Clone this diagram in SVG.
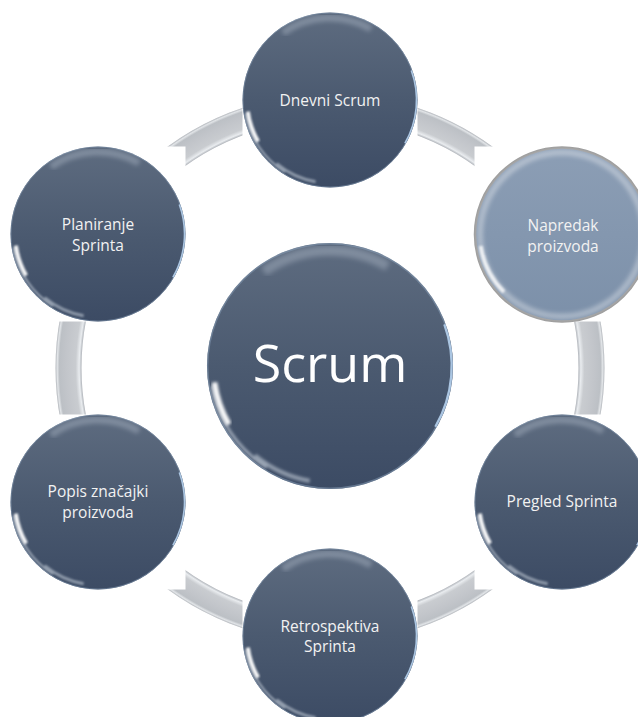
<svg xmlns="http://www.w3.org/2000/svg" xmlns:xlink="http://www.w3.org/1999/xlink" width="638" height="717" viewBox="0 0 638 717">
<style>
.lbl{font-family:"Open Sans","Noto Sans","Liberation Sans",sans-serif;font-size:15.5px;fill:#f2f2f2;text-anchor:middle}
.big{font-family:"Open Sans","Noto Sans","Liberation Sans",sans-serif;font-size:52px;fill:#ffffff;text-anchor:middle}
</style>
<defs>
  <linearGradient id="body" x1="0" y1="0" x2="0" y2="1">
    <stop offset="0" stop-color="#5e6c80"/>
    <stop offset="0.5" stop-color="#4b5a70"/>
    <stop offset="1" stop-color="#3c4b64"/>
  </linearGradient>
  <linearGradient id="bodyLight" x1="0" y1="0" x2="0" y2="1">
    <stop offset="0" stop-color="#8c9eb5"/>
    <stop offset="1" stop-color="#7c90a9"/>
  </linearGradient>
  <radialGradient id="ringGrad" gradientUnits="userSpaceOnUse" cx="330" cy="368" r="275">
    <stop offset="0.9036" stop-color="#b0b4ba"/>
    <stop offset="0.912" stop-color="#e9ecef"/>
    <stop offset="0.925" stop-color="#c9ccd0"/>
    <stop offset="0.96" stop-color="#c2c5ca"/>
    <stop offset="0.984" stop-color="#bcc0c5"/>
    <stop offset="0.992" stop-color="#e2e5e8"/>
    <stop offset="1" stop-color="#a4a8ae"/>
  </radialGradient>
  <filter id="b1" x="-20%" y="-20%" width="140%" height="140%"><feGaussianBlur stdDeviation="1"/></filter>
  <filter id="b2" x="-20%" y="-20%" width="140%" height="140%"><feGaussianBlur stdDeviation="2"/></filter>
  <mask id="ringMask" maskUnits="userSpaceOnUse" x="0" y="0" width="638" height="717">
    <rect x="0" y="0" width="638" height="717" fill="#fff"/>
    <rect x="242.5" y="12.5" width="175" height="175" fill="#000"/>
    <rect x="474.5" y="146.5" width="175" height="175" fill="#000"/>
    <rect x="474.5" y="414.5" width="175" height="175" fill="#000"/>
    <rect x="242.5" y="548.5" width="175" height="175" fill="#000"/>
    <rect x="10.5" y="414.5" width="175" height="175" fill="#000"/>
    <rect x="10.5" y="146.5" width="175" height="175" fill="#000"/>
  </mask>
  <g id="btn">
    <circle r="87.5" fill="url(#body)"/>
    <circle r="87" fill="none" stroke="#7f95ae" stroke-width="1" opacity="0.6"/>
    <path d="M -47 -67.2 A 82 82 0 0 1 41 -71" fill="none" stroke="#d0dae6" stroke-width="7" opacity="0.3" filter="url(#b2)"/>
    <path d="M -84 14 A 85 85 0 0 0 -45 72" fill="none" stroke="#e8f0f8" stroke-width="2" opacity="0.55" filter="url(#b1)"/>
    <path d="M -82.2 11.6 A 83 83 0 0 0 -71.9 41.5" fill="none" stroke="#ffffff" stroke-width="4" opacity="0.95" filter="url(#b1)"/>
    <path d="M -14.4 81.7 A 83 83 0 0 1 -53.4 63.6" fill="none" stroke="#e0e8f0" stroke-width="3" opacity="0.5" filter="url(#b1)"/>
    <path d="M 81.3 -29.6 A 86.5 86.5 0 0 1 74.9 43.25" fill="none" stroke="#b0cbe8" stroke-width="1.6" opacity="0.95"/>
  </g>
</defs>
<rect width="638" height="717" fill="#ffffff"/>
<g id="connectors">
  <circle cx="330" cy="368" r="261.5" fill="none" stroke="url(#ringGrad)" stroke-width="26" mask="url(#ringMask)"/>
</g>
<g id="node-scrum">
  <use xlink:href="#btn" transform="translate(330,366) scale(1.406)"/>
  <text class="big" x="330" y="382">Scrum</text>
</g>
<g id="node-dnevni">
  <use xlink:href="#btn" transform="translate(330,100)"/>
  <text class="lbl" x="330" y="105.5">Dnevni Scrum</text>
</g>
<g id="node-napredak">
  <circle cx="562" cy="234.5" r="87" fill="url(#bodyLight)" stroke="#9c9c9c" stroke-width="2.5"/>
  <circle cx="562" cy="234.5" r="82" fill="none" stroke="#ffffff" stroke-width="6" opacity="0.35" filter="url(#b2)"/>
  <path d="M 480.7 246 A 82 82 0 0 0 504 292" fill="none" stroke="#ffffff" stroke-width="4" opacity="0.8" filter="url(#b1)"/>
  <text class="lbl" x="563" y="230.5">Napredak</text>
  <text class="lbl" x="563" y="251.5">proizvoda</text>
</g>
<g id="node-pregled">
  <use xlink:href="#btn" transform="translate(562,502)"/>
  <text class="lbl" x="562" y="507">Pregled Sprinta</text>
</g>
<g id="node-retro">
  <use xlink:href="#btn" transform="translate(330,636)"/>
  <text class="lbl" x="330" y="631.5">Retrospektiva</text>
  <text class="lbl" x="330" y="652">Sprinta</text>
</g>
<g id="node-popis">
  <use xlink:href="#btn" transform="translate(98,502)"/>
  <text class="lbl" x="98" y="497">Popis značajki</text>
  <text class="lbl" x="98" y="517.5">proizvoda</text>
</g>
<g id="node-planiranje">
  <use xlink:href="#btn" transform="translate(98,234)"/>
  <text class="lbl" x="98" y="230">Planiranje</text>
  <text class="lbl" x="98" y="251">Sprinta</text>
</g>
</svg>
